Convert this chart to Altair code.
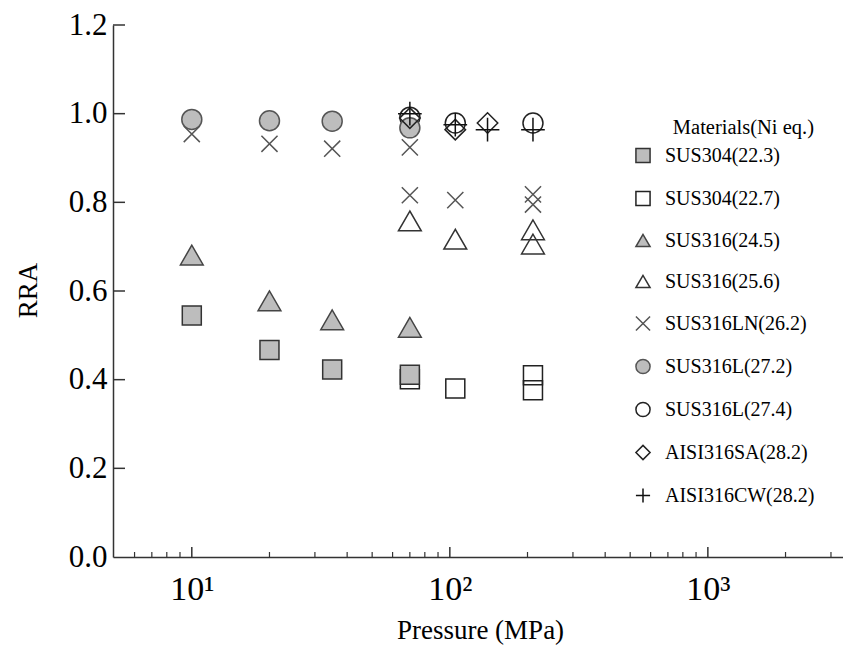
import altair as alt
import pandas as pd

# ---- data ----
materials = ["SUS304(22.3)", "SUS304(22.7)", "SUS316(24.5)", "SUS316(25.6)",
             "SUS316LN(26.2)", "SUS316L(27.2)", "SUS316L(27.4)",
             "AISI316SA(28.2)", "AISI316CW(28.2)"]

p_sus304_223 = [10, 20, 35, 70]
r_sus304_223 = [0.545, 0.467, 0.423, 0.411]
p_sus304_227 = [70, 105, 210, 210]
r_sus304_227 = [0.401, 0.380, 0.410, 0.376]
p_sus316_245 = [10, 20, 35, 70]
r_sus316_245 = [0.681, 0.578, 0.535, 0.518]
p_sus316_256 = [70, 105, 210, 210]
r_sus316_256 = [0.758, 0.717, 0.738, 0.706]
p_sus316ln = [10, 20, 35, 70, 70, 105, 210, 210]
r_sus316ln = [0.954, 0.932, 0.921, 0.924, 0.816, 0.805, 0.818, 0.795]
p_sus316l_272 = [10, 20, 35, 70]
r_sus316l_272 = [0.987, 0.984, 0.983, 0.968]
p_sus316l_274 = [70, 105, 210]
r_sus316l_274 = [0.992, 0.979, 0.979]
p_aisi316sa = [70, 105, 140]
r_aisi316sa = [0.990, 0.964, 0.979]
p_aisi316cw = [70, 105, 140, 210]
r_aisi316cw = [1.000, 0.975, 0.964, 0.964]

y_ticks = [0.0, 0.2, 0.4, 0.6, 0.8, 1.0, 1.2]
x_major = [10, 100, 1000]
x_minor = [6, 7, 8, 9, 20, 30, 40, 50, 60, 70, 80, 90,
           200, 300, 400, 500, 600, 700, 800, 900, 2000, 3000]

X_CROSS = "M-1,-1L1,1M-1,1L1,-1"
PLUS = "M-1,0L1,0M0,-1L0,1"
shapes = ["square", "square", "triangle-up", "triangle-up", X_CROSS,
          "circle", "circle", "diamond", PLUS]
GRAY = "#bdbdbd"
fills = [GRAY, "transparent", GRAY, "transparent", "transparent",
         GRAY, "transparent", "transparent", "transparent"]
strokes = ["#333333", "#222222", "#444444", "#333333", "#555555",
           "#555555", "#222222", "#222222", "#111111"]
marker_size = {"SUS304(22.3)": 361, "SUS304(22.7)": 361, "SUS316(24.5)": 520,
               "SUS316(25.6)": 520, "SUS316LN(26.2)": 260, "SUS316L(27.2)": 400,
               "SUS316L(27.4)": 400, "AISI316SA(28.2)": 420, "AISI316CW(28.2)": 560}

# draw order (open markers behind filled ones)
series = [
    ("SUS304(22.7)", p_sus304_227, r_sus304_227),
    ("SUS304(22.3)", p_sus304_223, r_sus304_223),
    ("SUS316(25.6)", p_sus316_256, r_sus316_256),
    ("SUS316(24.5)", p_sus316_245, r_sus316_245),
    ("SUS316LN(26.2)", p_sus316ln, r_sus316ln),
    ("SUS316L(27.4)", p_sus316l_274, r_sus316l_274),
    ("SUS316L(27.2)", p_sus316l_272, r_sus316l_272),
    ("AISI316SA(28.2)", p_aisi316sa, r_aisi316sa),
    ("AISI316CW(28.2)", p_aisi316cw, r_aisi316cw),
]

W, H = 730, 532
TOP = 17
FONT = "Liberation Serif, Times New Roman, serif"
xscale = alt.Scale(type="log", domain=[4.95, 3340], nice=False)
yscale = alt.Scale(domain=[0, 1.2], nice=False, zero=False)
LEG_TITLE = "Materials(Ni eq.)"

legend = alt.Legend(
    orient="none", legendX=520, legendY=93,
    titleFont=FONT, titleFontSize=20.5, titleFontWeight="normal", titleColor="black",
    titleAnchor="end", titlePadding=7,
    labelFont=FONT, labelFontSize=20, labelColor="black", labelOffset=12,
    symbolSize=200, symbolStrokeWidth=1.5, rowPadding=21, labelLimit=300,
)

x_axis = alt.Axis(values=x_major, ticks=False, grid=False,
                  labelExpr="datum.value == 10 ? '10¹' : datum.value == 100 ? '10²' : '10³'",
                  labelFontSize=34, labelPadding=15, titleFontSize=27,
                  titleX=367, titleY=73, titleBaseline="middle",
                  titleAnchor="start", titleAlign="center")
y_axis = alt.Axis(values=y_ticks, format=".1f", ticks=False, grid=False,
                  labelFontSize=31, labelPadding=6, labelOverlap=False,
                  labelFlush=False, titleFontSize=27,
                  titleX=-85, titleY=265, titleBaseline="middle",
                  titleAlign="center", titleAnchor="start")

layers = []
for i, (m, ps, rs) in enumerate(series):
    d = pd.DataFrame({"pressure": ps, "rra": rs, "material": [m] * len(ps)})
    enc = dict(
        shape=alt.Shape("material:N", scale=alt.Scale(domain=materials, range=shapes),
                        title=LEG_TITLE, legend=legend),
        fill=alt.Fill("material:N", scale=alt.Scale(domain=materials, range=fills),
                      title=LEG_TITLE, legend=legend),
        stroke=alt.Stroke("material:N", scale=alt.Scale(domain=materials, range=strokes),
                          title=LEG_TITLE, legend=legend),
    )
    if i == 0:
        enc["x"] = alt.X("pressure:Q", scale=xscale, title="Pressure (MPa)", axis=x_axis)
        enc["y"] = alt.Y("rra:Q", scale=yscale, title="RRA", axis=y_axis)
    else:
        enc["x"] = alt.X("pressure:Q", scale=xscale)
        enc["y"] = alt.Y("rra:Q", scale=yscale)
    layers.append(
        alt.Chart(d).mark_point(filled=False, strokeWidth=1.5, opacity=1,
                                size=marker_size[m]).encode(**enc)
    )

ydf = pd.DataFrame({"rra": y_ticks[1:]})
y_tick_rules = alt.Chart(ydf).mark_rule(color="#333333", strokeWidth=1.5).encode(
    y=alt.Y("rra:Q", scale=yscale),
    x=alt.value(0), x2=alt.value(12),
)
xmaj = pd.DataFrame({"pressure": x_major})
x_major_rules = alt.Chart(xmaj).mark_rule(color="#333333", strokeWidth=1.5).encode(
    x=alt.X("pressure:Q", scale=xscale),
    y=alt.value(H), y2=alt.value(H - 10),
)
xmin = pd.DataFrame({"pressure": x_minor})
x_minor_rules = alt.Chart(xmin).mark_rule(color="#333333", strokeWidth=1.2).encode(
    x=alt.X("pressure:Q", scale=xscale),
    y=alt.value(H), y2=alt.value(H - 5),
)

chart = alt.layer(*layers, y_tick_rules, x_major_rules, x_minor_rules).properties(
    width=W, height=H, autosize="none",
    padding={"left": 105, "top": TOP, "right": 0, "bottom": 100},
    background="white",
).configure_view(strokeWidth=0).configure_axis(
    domainColor="#333333", domainWidth=1.5, labelFont=FONT, titleFont=FONT,
    labelColor="black", titleColor="black", titleFontWeight="normal",
)

chart.save("out.html", embed_options={"renderer": "svg", "actions": False})
